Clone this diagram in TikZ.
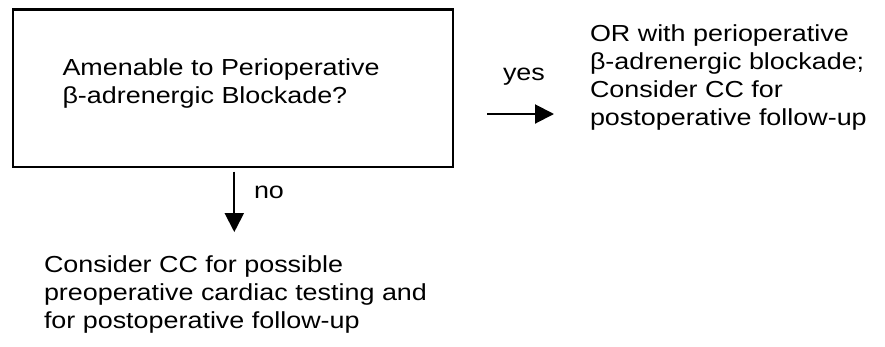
\documentclass[tikz,border=0pt]{standalone}
\usepackage{fontspec}
\setmainfont[FakeStretch=1.16]{Liberation Sans}
\usetikzlibrary{arrows.meta,calc}
\begin{document}
\begin{tikzpicture}[x=1pt,y=-1pt,
  txt/.style={font=\fontsize{23.2}{27.8}\selectfont, inner sep=0pt, outer sep=0pt, align=left, anchor=base west},
  boxst/.style={draw, line width=2.5pt, minimum width=440pt, minimum height=157.5pt, inner sep=0pt, outer sep=0pt, anchor=north west},
  arr/.style={line width=2pt, -{Triangle[length=19pt,width=19pt]}}]
\useasboundingbox (0,0) rectangle (885,346);
\node[boxst] (q) at (13,9.5) {};
\node[txt] (qt) at (62.5,103) {Amenable to Perioperative\\β-adrenergic Blockade?};
\node[txt] (r) at (590,125) {OR with perioperative\\β-adrenergic blockade;\\Consider CC for\\postoperative follow-up};
\node[txt] (b) at (44,328.5) {Consider CC for possible\\preoperative cardiac testing and\\for postoperative follow-up};
\node[txt] (yes) at (503,80) {yes};
\node[txt] (no) at (254,198.3) {no};
\draw[arr] ($(q.south)+(1.3,4.7)$) -- ($(q.south |- b.north)+(1.3,-24)$);
\draw[arr] ($(q.east)+(34,25.75)$) -- ($(q.east -| r.west)+(-36,25.75)$);
\end{tikzpicture}
\end{document}
